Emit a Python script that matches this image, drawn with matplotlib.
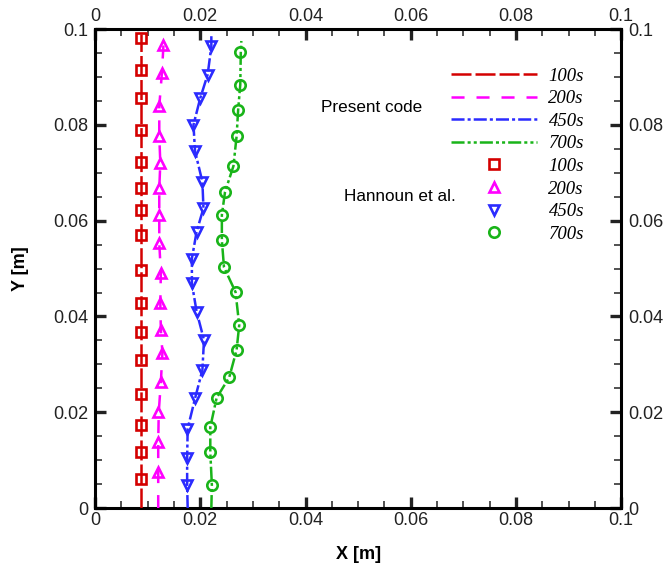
import matplotlib
matplotlib.use("Agg")
import matplotlib.pyplot as plt
from matplotlib import ticker

plt.rcParams['font.family'] = ['Liberation Sans', 'DejaVu Sans']
plt.rcParams['lines.scale_dashes'] = False

# present code (lines)
line_y_100 = [0.0, 0.02, 0.04, 0.06, 0.08, 0.099]
line_x_100 = [0.0087, 0.0087, 0.0087, 0.0087, 0.0087, 0.0087]

line_y_200 = [0.0, 0.0075, 0.0138, 0.0200, 0.0263, 0.0324, 0.0372, 0.0428, 0.0491,
              0.0553, 0.0612, 0.0668, 0.0720, 0.0777, 0.0839, 0.0908, 0.0967, 0.0985]
line_x_200 = [0.0120, 0.0120, 0.0120, 0.0121, 0.0125, 0.0128, 0.0125, 0.0124, 0.0125,
              0.0122, 0.0122, 0.0122, 0.0124, 0.0122, 0.0122, 0.0127, 0.0130, 0.0130]

line_y_450 = [0.0, 0.0048, 0.0104, 0.0166, 0.0229, 0.0288, 0.0351, 0.0410, 0.0469,
              0.0521, 0.0577, 0.0626, 0.0681, 0.0745, 0.0800, 0.0856, 0.0905, 0.0964, 0.0985]
line_x_450 = [0.0176, 0.0175, 0.0175, 0.0176, 0.0190, 0.0204, 0.0207, 0.0193, 0.0184,
              0.0184, 0.0193, 0.0206, 0.0204, 0.0190, 0.0187, 0.0200, 0.0214, 0.0221, 0.0221]

line_y_700 = [0.0, 0.0048, 0.0117, 0.0169, 0.0230, 0.0273, 0.0330, 0.0382, 0.0451,
              0.0503, 0.0559, 0.0612, 0.0660, 0.0714, 0.0776, 0.0832, 0.0884, 0.0953, 0.0975]
line_x_700 = [0.0221, 0.0222, 0.0219, 0.0219, 0.0231, 0.0255, 0.0269, 0.0274, 0.0267,
              0.0245, 0.0241, 0.0241, 0.0247, 0.0263, 0.0269, 0.0272, 0.0276, 0.0277, 0.0278]

# Hannoun et al. (symbols)
ref_y_100 = [0.0981, 0.0914, 0.0856, 0.0789, 0.0722, 0.0668, 0.0622, 0.0570, 0.0497,
             0.0428, 0.0367, 0.0309, 0.0238, 0.0173, 0.0117, 0.0061]
ref_x_100 = [0.0087] * 16

ref_y_200 = [0.0967, 0.0908, 0.0839, 0.0777, 0.0720, 0.0668, 0.0612, 0.0553, 0.0491,
             0.0428, 0.0372, 0.0324, 0.0263, 0.0200, 0.0138, 0.0075]
ref_x_200 = [0.0130, 0.0127, 0.0122, 0.0122, 0.0124, 0.0122, 0.0122, 0.0122, 0.0125,
             0.0124, 0.0125, 0.0128, 0.0125, 0.0120, 0.0120, 0.0120]

ref_y_450 = [0.0964, 0.0905, 0.0856, 0.0800, 0.0745, 0.0681, 0.0626, 0.0577, 0.0521,
             0.0469, 0.0410, 0.0351, 0.0288, 0.0229, 0.0166, 0.0104, 0.0048]
ref_x_450 = [0.0221, 0.0214, 0.0200, 0.0187, 0.0190, 0.0204, 0.0206, 0.0193, 0.0184,
             0.0184, 0.0193, 0.0207, 0.0204, 0.0190, 0.0174, 0.0174, 0.0174]

ref_y_700 = [0.0953, 0.0884, 0.0832, 0.0776, 0.0714, 0.0660, 0.0612, 0.0559, 0.0503,
             0.0451, 0.0382, 0.0330, 0.0273, 0.0230, 0.0169, 0.0117, 0.0048]
ref_x_700 = [0.0276, 0.0276, 0.0272, 0.0269, 0.0263, 0.0247, 0.0241, 0.0241, 0.0245,
             0.0267, 0.0274, 0.0269, 0.0255, 0.0231, 0.0219, 0.0219, 0.0222]

labels = ['100s', '200s', '450s', '700s']
colors = ['#d40000', '#ff00ff', '#2b2bff', '#19b419']
dashes = [(0, (14.4, 2.9)), (0, (9.4, 8.6)), (0, (9.4, 2.2, 2.2, 2.2)),
          (0, (9.4, 2.2, 2.2, 2.2, 2.2, 2.2))]
markers = ['s', '^', 'v', 'o']
msizes = [6.5, 7.5, 7.5, 7.5]

fig = plt.figure(figsize=(6.65, 5.69), dpi=100)
ax = fig.add_axes([0.143, 0.107, 0.791, 0.842])

lines_x = [line_x_100, line_x_200, line_x_450, line_x_700]
lines_y = [line_y_100, line_y_200, line_y_450, line_y_700]
refs_x = [ref_x_100, ref_x_200, ref_x_450, ref_x_700]
refs_y = [ref_y_100, ref_y_200, ref_y_450, ref_y_700]

line_handles = []
sym_handles = []
for i in range(4):
    s, = ax.plot(refs_x[i], refs_y[i], linestyle='none', marker=markers[i],
                 ms=msizes[i], mfc='white', mec=colors[i], mew=1.9, zorder=3)
    l, = ax.plot(lines_x[i], lines_y[i], color=colors[i], lw=1.8,
                 linestyle=dashes[i], zorder=4)
    line_handles.append(l)
    sym_handles.append(s)

ax.set_xlim(0, 0.1)
ax.set_ylim(0, 0.1)
ax.xaxis.set_major_locator(ticker.MultipleLocator(0.02))
ax.xaxis.set_minor_locator(ticker.MultipleLocator(0.005))
ax.yaxis.set_major_locator(ticker.MultipleLocator(0.02))
ax.yaxis.set_minor_locator(ticker.MultipleLocator(0.005))
ax.xaxis.set_major_formatter(ticker.FormatStrFormatter('%g'))
ax.yaxis.set_major_formatter(ticker.FormatStrFormatter('%g'))

ax.tick_params(which='both', direction='in', top=True, right=True,
               labeltop=True, labelright=True, labelsize=13, colors='#222222')
ax.tick_params(which='major', length=8, width=2.4)
ax.tick_params(which='minor', length=5, width=1.1)
ax.tick_params(axis='x', which='major', pad=3)
ax.tick_params(axis='y', which='major', pad=5)
for sp in ax.spines.values():
    sp.set_linewidth(2.2)

ax.set_xlabel('X [m]', fontsize=13, fontweight='bold', labelpad=12)
ax.set_ylabel('Y [m]', fontsize=13, fontweight='bold', labelpad=17)

leg = ax.legend(line_handles + sym_handles, labels + labels,
                loc='upper left', bbox_to_anchor=(0.6616, 0.935),
                borderaxespad=0, frameon=False, handlelength=4.6,
                handletextpad=0.62, labelspacing=0.29,
                prop={'family': 'Liberation Serif', 'style': 'italic', 'size': 13.5})

ax.text(0.5266, 0.8357, 'Present code', transform=ax.transAxes,
        ha='center', va='center', fontsize=12.3)
ax.text(0.579, 0.6499, 'Hannoun et al.', transform=ax.transAxes,
        ha='center', va='center', fontsize=12.3)

fig.savefig('out.png', dpi=100)
